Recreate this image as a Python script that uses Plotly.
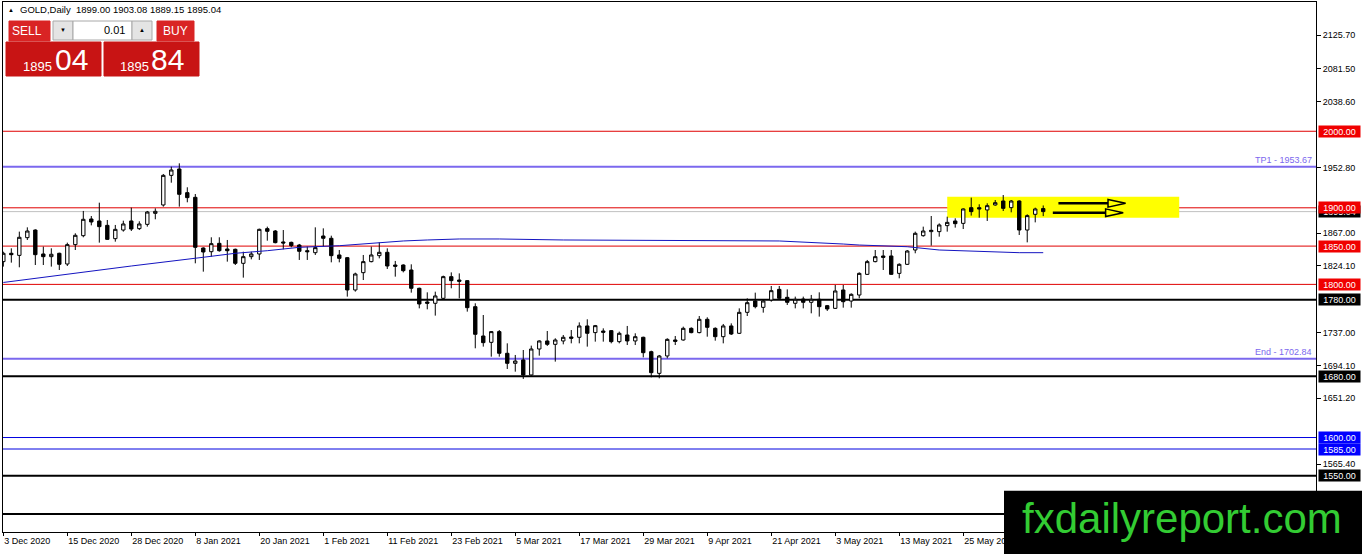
import plotly.graph_objects as go

#---------------------------------------------------------------------#
#  GOLD daily candles (bar index -> o/h/l/c)  #
#---------------------------------------------------------------------#
opens = [1829.7, 1840.6, 1837.9, 1861.0, 1871.0, 1839.7, 1836.2, 1840.6, 1826.6, 1851.9,
         1863.6, 1885.4, 1882.8, 1877.1, 1859.7, 1871.0, 1882.8, 1872.8, 1878.4, 1892.8,
         1903.7, 1942.4, 1950.7, 1919.8, 1913.7, 1847.5, 1842.7, 1853.6, 1846.2, 1845.8,
         1827.5, 1836.2, 1839.7, 1872.8, 1869.7, 1855.4, 1854.9, 1851.4, 1844.0, 1841.4,
         1863.2, 1860.2, 1838.4, 1834.9, 1792.7, 1815.3, 1829.7, 1837.5, 1841.9, 1825.3,
         1825.3, 1818.8, 1794.9, 1777.0, 1775.3, 1781.8, 1810.1, 1805.7, 1804.9, 1770.9,
         1732.6, 1724.3, 1738.3, 1710.0, 1696.9, 1701.3, 1681.7, 1715.6, 1726.1, 1721.7,
         1726.1, 1731.3, 1730.9, 1745.7, 1737.0, 1739.1, 1739.6, 1725.2, 1733.9, 1726.1,
         1730.9, 1712.1, 1683.8, 1706.5, 1727.4, 1727.4, 1742.6, 1737.0, 1754.4, 1742.6,
         1731.7, 1745.7, 1736.1, 1763.5, 1778.3, 1770.0, 1779.6, 1793.5, 1783.1, 1775.3,
         1780.9, 1776.6, 1780.5, 1772.2, 1768.7, 1792.7, 1778.3, 1786.1, 1813.1, 1829.7,
         1837.1, 1837.1, 1814.4, 1826.2, 1844.9, 1863.6, 1868.9, 1868.9, 1876.7, 1882.8,
         1879.7, 1900.2, 1900.2, 1897.2, 1903.7, 1908.9, 1900.2, 1908.9, 1871.0, 1891.5,
         1899.00]
highs = [1842.7, 1847.1, 1868.9, 1874.5, 1871.9, 1849.3, 1847.1, 1841.4, 1854.5, 1866.7,
         1895.9, 1889.3, 1906.7, 1884.1, 1877.6, 1883.2, 1900.2, 1882.4, 1895.9, 1899.3,
         1944.2, 1953.7, 1958.1, 1926.8, 1918.0, 1848.4, 1861.5, 1861.5, 1858.0, 1846.7,
         1842.7, 1842.7, 1872.8, 1875.4, 1871.0, 1871.0, 1855.8, 1852.8, 1849.3, 1874.5,
         1873.2, 1863.6, 1844.9, 1835.8, 1815.3, 1838.4, 1849.3, 1854.9, 1847.1, 1830.6,
         1826.2, 1826.2, 1795.7, 1789.6, 1790.5, 1811.4, 1815.7, 1814.4, 1805.7, 1775.3,
         1760.0, 1739.1, 1740.4, 1723.0, 1707.8, 1714.3, 1720.0, 1726.9, 1739.1, 1729.6,
         1733.9, 1740.4, 1750.4, 1754.4, 1747.0, 1742.6, 1740.4, 1738.3, 1745.7, 1736.1,
         1731.7, 1713.4, 1707.8, 1729.6, 1732.6, 1744.8, 1743.9, 1758.7, 1757.0, 1743.9,
         1748.3, 1749.1, 1768.7, 1781.8, 1789.2, 1779.6, 1797.9, 1797.9, 1793.5, 1784.0,
         1784.0, 1786.2, 1789.6, 1773.1, 1799.2, 1799.2, 1788.3, 1815.7, 1831.9, 1844.9,
         1844.9, 1844.9, 1827.5, 1844.9, 1868.9, 1875.4, 1889.3, 1879.7, 1888.4, 1886.3,
         1899.3, 1913.3, 1904.6, 1905.9, 1910.2, 1916.7, 1910.2, 1909.8, 1891.5, 1900.2,
         1903.08]
lows = [1823.2, 1828.4, 1822.3, 1858.0, 1825.3, 1825.3, 1823.2, 1818.8, 1824.0, 1844.9,
        1861.5, 1877.1, 1854.5, 1858.0, 1855.8, 1868.9, 1869.7, 1871.0, 1875.4, 1885.0,
        1901.5, 1932.8, 1901.5, 1907.2, 1827.5, 1816.6, 1836.2, 1842.7, 1829.7, 1825.3,
        1808.8, 1832.7, 1831.9, 1857.1, 1853.6, 1845.8, 1848.4, 1831.9, 1831.9, 1838.4,
        1849.3, 1828.8, 1828.8, 1784.0, 1790.5, 1805.7, 1828.8, 1834.0, 1820.1, 1810.1,
        1815.7, 1789.2, 1768.7, 1767.4, 1759.2, 1780.9, 1794.9, 1781.8, 1764.4, 1716.5,
        1718.7, 1705.6, 1705.6, 1689.5, 1686.0, 1676.5, 1680.8, 1706.9, 1719.6, 1699.1,
        1721.7, 1723.0, 1723.0, 1718.7, 1725.2, 1725.2, 1723.0, 1723.0, 1720.8, 1720.8,
        1704.7, 1678.6, 1677.3, 1703.4, 1720.8, 1726.5, 1736.1, 1736.1, 1731.7, 1726.5,
        1723.0, 1733.9, 1735.2, 1758.7, 1768.7, 1763.1, 1777.4, 1780.5, 1773.1, 1768.7,
        1768.7, 1762.2, 1757.9, 1765.3, 1767.9, 1769.6, 1769.6, 1781.8, 1812.3, 1828.8,
        1818.8, 1812.3, 1807.9, 1825.3, 1840.6, 1862.3, 1850.6, 1862.3, 1868.9, 1874.1,
        1872.3, 1889.8, 1887.1, 1882.8, 1902.8, 1895.8, 1894.1, 1864.5, 1854.9, 1881.0,
        1889.15]
closes = [1840.6, 1838.8, 1861.5, 1869.7, 1838.8, 1836.2, 1839.3, 1826.2, 1851.9, 1864.1,
          1885.0, 1881.5, 1875.4, 1858.8, 1871.9, 1878.9, 1872.3, 1878.9, 1894.5, 1895.4,
          1942.4, 1949.4, 1917.6, 1913.3, 1848.4, 1842.3, 1853.2, 1844.0, 1844.0, 1827.5,
          1836.2, 1839.7, 1871.9, 1869.3, 1854.5, 1854.1, 1850.6, 1843.2, 1842.7, 1848.0,
          1860.2, 1837.5, 1834.0, 1792.7, 1813.6, 1829.7, 1838.4, 1841.9, 1824.0, 1823.6,
          1817.9, 1794.9, 1774.4, 1775.3, 1784.9, 1810.1, 1804.9, 1804.0, 1769.6, 1734.8,
          1723.9, 1738.3, 1710.0, 1696.9, 1699.9, 1681.7, 1715.6, 1726.1, 1721.7, 1727.4,
          1730.9, 1729.6, 1745.7, 1736.1, 1746.1, 1737.4, 1725.2, 1736.1, 1726.1, 1731.7,
          1710.8, 1684.7, 1706.5, 1728.2, 1725.6, 1742.6, 1737.0, 1754.4, 1743.9, 1731.7,
          1745.7, 1735.2, 1763.5, 1776.1, 1770.9, 1778.3, 1791.8, 1781.8, 1776.6, 1780.5,
          1776.6, 1780.5, 1770.9, 1767.9, 1791.4, 1777.4, 1787.0, 1814.4, 1829.7, 1836.2,
          1835.3, 1813.1, 1826.2, 1843.6, 1866.7, 1869.7, 1870.6, 1877.6, 1881.0, 1879.3,
          1898.5, 1895.0, 1898.5, 1902.8, 1906.7, 1899.3, 1908.9, 1871.0, 1889.8, 1898.5,
          1895.04]
bars = list(range(len(opens)))

# moving average (blue line), sampled at a few bars
ma_bars = [0, 8, 16, 25, 29, 33, 37, 42, 45, 47, 50, 53, 57, 62, 70, 97, 101, 105, 107, 110, 113, 117, 122, 127, 130]
ma_vals = [1802.5, 1813.6, 1824.0, 1835.4, 1840.6, 1844.0, 1848.4, 1850.5, 1852.7, 1855.0, 1856.7, 1858.0,
           1859.3, 1859.3, 1858.0, 1856.7, 1855.0, 1852.7, 1851.4, 1850.5, 1849.2, 1844.9, 1842.7, 1841.4, 1841.4]

# date labels on the time axis (one every 8 bars)
date_bars = [0, 8, 16, 24, 32, 40, 48, 56, 64, 72, 80, 88, 96, 104, 112, 120]
date_labels = ["3 Dec 2020", "15 Dec 2020", "28 Dec 2020", "8 Jan 2021", "20 Jan 2021", "1 Feb 2021",
               "11 Feb 2021", "23 Feb 2021", "5 Mar 2021", "17 Mar 2021", "29 Mar 2021", "9 Apr 2021",
               "21 Apr 2021", "3 May 2021", "13 May 2021", "25 May 2021"]

# price scale labels that are not covered by a level box
price_ticks = [2125.70, 2081.50, 2038.60, 1952.80, 1867.00, 1824.10,
               1737.00, 1694.10, 1651.20, 1565.40]

# horizontal levels: (price, line colour, width, label box colour or None)
levels = [
    (2000.00, "#e00000", 1, "#f00000"),
    (1900.00, "#e00000", 1, "#f00000"),
    (1850.00, "#e00000", 1, "#f00000"),
    (1800.00, "#e00000", 1, "#f00000"),
    (1780.00, "#000000", 2, "#000000"),
    (1680.00, "#000000", 2, "#000000"),
    (1600.00, "#0000e0", 1, "#0000ff"),
    (1585.00, "#0000e0", 1, "#0000ff"),
    (1550.00, "#000000", 2, "#000000"),
    (1500.00, "#000000", 2, None),
]
targets = [("TP1", 1953.67), ("End", 1702.84)]
bid = 1895.04

# highlighted zone and the two arrows drawn on it
zone_bars = (118, 147)
zone_prices = (1887.1, 1914.5)
arrows = [  # start bar, shaft end bar, tip bar, price
    (131.9, 138.1, 140.3, 1905.9),
    (131.2, 137.8, 140.0, 1893.6),
]

#-----------------------------------------------------#
#                       layout                        #
#-----------------------------------------------------#
W, H = 1362, 554
L, R, T, B = 3, 46, 2, 22
PW, PH = W - L - R, H - T - B
FONT = "Liberation Sans, Arial, sans-serif"


def px(x):
    return (x - L) / PW


def py(y):
    return 1 - (y - T) / PH


fig = go.Figure()

fig.add_trace(go.Candlestick(
    x=bars, open=opens, high=highs, low=lows, close=closes,
    increasing=dict(line=dict(color="black", width=1), fillcolor="white"),
    decreasing=dict(line=dict(color="black", width=1), fillcolor="black"),
    whiskerwidth=0, showlegend=False, hoverinfo="skip"))

fig.add_trace(go.Scatter(x=ma_bars, y=ma_vals, mode="lines",
                         line=dict(color="#1414c0", width=1), showlegend=False, hoverinfo="skip"))

shapes = []
annotations = []

# yellow zone first so the lines run over it
shapes.append(dict(type="rect", xref="x", yref="y", x0=zone_bars[0], x1=zone_bars[1],
                   y0=zone_prices[0], y1=zone_prices[1], fillcolor="#ffff00",
                   line=dict(width=0), layer="below"))

# bid line (silver)
shapes.append(dict(type="line", xref="paper", yref="y", x0=0, x1=1, y0=bid, y1=bid,
                   line=dict(color="#c0c0c0", width=1), layer="below"))
annotations.append(dict(xref="paper", yref="y", x=px(1318), y=bid, xanchor="left", yanchor="middle",
                        text="%.2f" % bid, showarrow=False, bgcolor="black", width=41, height=11,
                        borderpad=0, font=dict(color="white", size=9, family=FONT)))

for price, col, lw, box in levels:
    shapes.append(dict(type="line", xref="paper", yref="y", x0=0, x1=1, y0=price, y1=price,
                       line=dict(color=col, width=lw), layer="below"))
    if box:
        annotations.append(dict(xref="paper", yref="y", x=px(1318), y=price, xanchor="left",
                                yanchor="middle", text="%.2f" % price, showarrow=False, bgcolor=box,
                                width=41, height=11, borderpad=0,
                                font=dict(color="white", size=9, family=FONT)))

for name, price in targets:
    shapes.append(dict(type="line", xref="paper", yref="y", x0=0, x1=1, y0=price, y1=price,
                       line=dict(color="#7b68ee", width=2), layer="below"))
    annotations.append(dict(xref="paper", yref="y", x=px(1314), y=price, xanchor="right",
                            yanchor="bottom", text="%s - %.2f" % (name, price), showarrow=False,
                            font=dict(color="#7b68ee", size=9, family=FONT)))

# hollow arrows
for x0, x1, xt, p in arrows:
    h = 5.0
    shapes.append(dict(type="line", xref="x", yref="y", x0=x0, x1=x1, y0=p, y1=p,
                       line=dict(color="black", width=2.5)))
    shapes.append(dict(type="path", xref="x", yref="y",
                       path="M %s,%s L %s,%s L %s,%s Z" % (x1, p + h, xt, p, x1, p - h),
                       fillcolor="#ffff00", line=dict(color="black", width=1.5)))

# trade panel (one click trading box)
red_btn, red_pan = "#d92424", "#c81414"
panel = [
    (9, 21, 50, 41, red_btn, red_btn),
    (6, 42, 101, 76, red_pan, red_pan),
    (157, 21, 194, 41, red_btn, red_btn),
    (104, 42, 199, 76, red_pan, red_pan),
    (53, 21, 73, 40, "#e4e4e4", "#a8a8a8"),
    (73, 21, 132, 40, "#ffffff", "#a8a8a8"),
    (132, 21, 152, 40, "#e4e4e4", "#a8a8a8"),
]
for x0, y0, x1, y1, fc, lc in panel:
    shapes.append(dict(type="rect", xref="paper", yref="paper", x0=px(x0), x1=px(x1),
                       y0=py(y1), y1=py(y0), fillcolor=fc, line=dict(color=lc, width=1), layer="above"))

panel_text = [
    ("SELL", 27, 31, 12, "white", "center"),
    ("\u25bc", 63, 30, 6, "black", "center"),
    ("0.01", 127, 30, 11, "black", "right"),
    ("\u25b2", 142, 30, 6, "black", "center"),
    ("BUY", 175, 31, 12, "white", "center"),
    ("1895", 37.5, 67, 13, "white", "center"),
    ("04", 71, 60, 30, "white", "center"),
    ("1895", 134, 67, 13, "white", "center"),
    ("84", 167.5, 60, 30, "white", "center"),
]
for txt, x, y, size, col, anchor in panel_text:
    annotations.append(dict(xref="paper", yref="paper", x=px(x), y=py(y), xanchor=anchor,
                            yanchor="middle", text=txt, showarrow=False,
                            font=dict(color=col, size=size, family=FONT)))

# header
annotations.append(dict(xref="paper", yref="paper", x=px(6), y=py(10), xanchor="left", yanchor="middle",
                        text="\u25b2", showarrow=False, font=dict(color="black", size=6, family=FONT)))
annotations.append(dict(xref="paper", yref="paper", x=px(18), y=py(10), xanchor="left", yanchor="middle",
                        text="GOLD,Daily  %.2f %.2f %.2f %.2f" % (opens[-1], highs[-1], lows[-1], closes[-1]),
                        showarrow=False, font=dict(color="black", size=9.5, family=FONT)))

# watermark
shapes.append(dict(type="rect", xref="paper", yref="paper", x0=px(1004), x1=px(1362),
                   y0=py(554), y1=py(490.7), fillcolor="black", line=dict(width=0), layer="above"))
annotations.append(dict(xref="paper", yref="paper", x=px(1182), y=py(518), xanchor="center",
                        yanchor="middle", text="fxdailyreport.com", showarrow=False,
                        font=dict(color="#33cc33", size=42, family=FONT)))

fig.update_layout(
    width=W, height=H,
    margin=dict(l=L, r=R, t=T, b=B, pad=0, autoexpand=False),
    paper_bgcolor="white", plot_bgcolor="white",
    boxgap=0.4,
    shapes=shapes, annotations=annotations,
    font=dict(family=FONT, size=9, color="black"),
    xaxis=dict(range=[-0.04, 164.1], rangeslider=dict(visible=False),
               tickmode="array", tickvals=date_bars, ticktext=date_labels,
               ticks="outside", ticklen=3, tickcolor="black", ticklabelposition="outside right",
               showline=True, linecolor="black", linewidth=1, mirror=True,
               showgrid=False, zeroline=False, tickfont=dict(size=9, color="black")),
    yaxis=dict(range=[1476.6, 2168.8], side="right",
               tickmode="array", tickvals=price_ticks, ticktext=["%.2f" % v for v in price_ticks],
               ticks="outside", ticklen=4, tickcolor="black",
               showline=True, linecolor="black", linewidth=1, mirror=True,
               showgrid=False, zeroline=False, tickfont=dict(size=9, color="black")),
)

# page body has an 8px margin by default; drop it so the chart sits at 0,0
fig.write_html("out.html", config={"displayModeBar": False},
               post_script="document.body.style.margin='0';")
